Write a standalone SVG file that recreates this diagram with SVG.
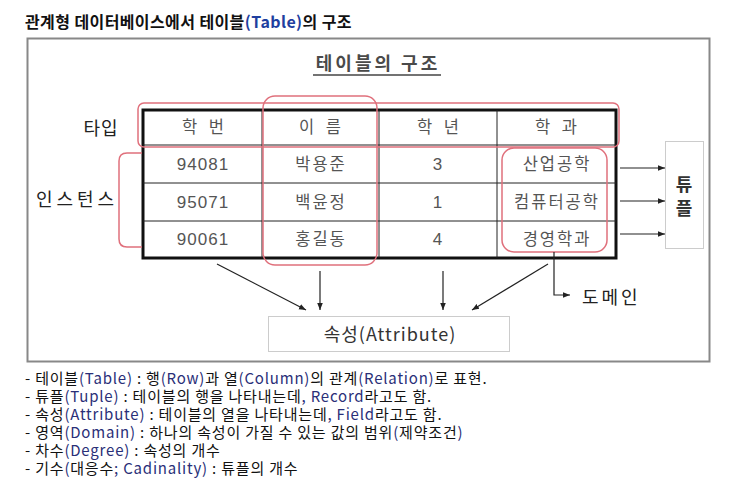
<svg xmlns="http://www.w3.org/2000/svg" width="739" height="491" viewBox="0 0 739 491">
<defs>
<style>
.k{font-family:"Noto Sans CJK KR","Noto Sans",sans-serif}
.cell{font-family:"Noto Sans CJK KR","Noto Sans",sans-serif;font-size:16.5px;fill:#555;text-anchor:middle;letter-spacing:2px}
.hd{letter-spacing:4px}
.num{font-family:"Liberation Sans","Noto Sans CJK KR",sans-serif;font-size:17px;fill:#555;text-anchor:middle;letter-spacing:1px}
.red{fill:none;stroke:#e0707c;stroke-width:1.5}
.grid{stroke:#222;stroke-width:1}
.arr{stroke:#222;stroke-width:1.2;fill:none;marker-end:url(#ah)}
.en{fill:#2a2f78}
.list{font-family:"Noto Sans CJK KR","Noto Sans",sans-serif;font-size:15px;fill:#111;letter-spacing:0.8px}
</style>
<marker id="ah" viewBox="0 0 10 10" refX="10" refY="5" markerWidth="7" markerHeight="7" orient="auto" markerUnits="userSpaceOnUse">
<path d="M0,1 L10,5 L0,9 z" fill="#222"/>
</marker>
</defs>
<rect width="739" height="491" fill="#fff"/>
<text x="25" y="28" class="k" font-size="16" font-weight="bold" fill="#111" letter-spacing="0.4">관계형 데이터베이스에서 테이블<tspan fill="#1f3fa0">(Table)</tspan>의 구조</text>
<rect id="frame" x="27.5" y="38.5" width="682" height="323" fill="none" stroke="#888" stroke-width="2"/>
<g id="title">
<text x="378" y="70" class="k" font-size="18" font-weight="bold" fill="#4a4a4a" text-anchor="middle" letter-spacing="3">테이블의 구조</text>
<line x1="313" y1="75" x2="441" y2="75" stroke="#444" stroke-width="1.5"/>
</g>
<g id="table">
<rect x="143" y="110" width="473" height="148" fill="#fff" stroke="#111" stroke-width="3"/>
<line class="grid" x1="143" y1="145" x2="616" y2="145"/>
<line class="grid" x1="143" y1="183" x2="616" y2="183"/>
<line class="grid" x1="143" y1="221" x2="616" y2="221"/>
<line class="grid" x1="262" y1="110" x2="262" y2="258"/>
<line class="grid" x1="379" y1="110" x2="379" y2="258"/>
<line class="grid" x1="497" y1="110" x2="497" y2="258"/>
<text class="cell hd" x="205" y="133">학 번</text>
<text class="cell hd" x="322" y="133">이 름</text>
<text class="cell hd" x="440" y="133">학 년</text>
<text class="cell hd" x="558" y="133">학 과</text>
<text class="num" x="203" y="170">94081</text>
<text class="cell" x="321" y="170">박용준</text>
<text class="num" x="438" y="170">3</text>
<text class="cell" x="557" y="170">산업공학</text>
<text class="num" x="203" y="208">95071</text>
<text class="cell" x="321" y="208">백윤정</text>
<text class="num" x="438" y="208">1</text>
<text class="cell" x="557" y="208">컴퓨터공학</text>
<text class="num" x="203" y="245">90061</text>
<text class="cell" x="321" y="245">홍길동</text>
<text class="num" x="438" y="245">4</text>
<text class="cell" x="557" y="245">경영학과</text>
</g>
<g id="type">
<rect class="red" x="138" y="103" width="481" height="44" rx="6"/>
<text x="101" y="135" class="k" font-size="18" fill="#222" text-anchor="middle" letter-spacing="1">타입</text>
</g>
<g id="name-col">
<rect class="red" x="263" y="96" width="114" height="169" rx="12"/>
</g>
<g id="domain-box">
<rect class="red" x="502" y="148" width="105" height="104" rx="12"/>
</g>
<g id="instance">
<path class="red" d="M142,153 L127,153 Q119,153 119,161 L119,239 Q119,247 127,247 L142,247"/>
<text x="77" y="206" class="k" font-size="18" fill="#222" text-anchor="middle" letter-spacing="4">인스턴스</text>
</g>
<g id="tuple">
<rect x="665.5" y="141.5" width="38" height="107" fill="#fff" stroke="#ccc" stroke-width="1"/>
<text x="684" y="191" class="k" font-size="18" font-weight="bold" fill="#333" text-anchor="middle">튜</text>
<text x="684" y="215" class="k" font-size="18" font-weight="bold" fill="#333" text-anchor="middle">플</text>
</g>
<g id="attribute">
<rect x="268.5" y="316.5" width="241" height="35" fill="#fff" stroke="#ccc" stroke-width="1"/>
<text x="390" y="341" class="k" font-size="18" fill="#333" text-anchor="middle" letter-spacing="1">속성(Attribute)</text>
</g>
<g id="domain">
<text x="582" y="304" class="k" font-size="18" fill="#222" letter-spacing="3">도메인</text>
</g>
<g id="connectors">
<line class="arr" x1="620" y1="168" x2="665" y2="168"/>
<line class="arr" x1="620" y1="201" x2="665" y2="201"/>
<line class="arr" x1="620" y1="234" x2="665" y2="234"/>
<line class="arr" x1="217" y1="264" x2="306" y2="310"/>
<line class="arr" x1="320" y1="271" x2="320" y2="310"/>
<line class="arr" x1="443" y1="271" x2="443" y2="310"/>
<line class="arr" x1="548" y1="264" x2="472" y2="310"/>
<path class="arr" d="M554,252 L554,295 L570,295"/>
</g>
<g id="notes" class="list">
<text x="25" y="384">- 테이블<tspan class="en">(Table)</tspan> : 행<tspan class="en">(Row)</tspan>과 열<tspan class="en">(Column)</tspan>의 관계<tspan class="en">(Relation)</tspan>로 표현.</text>
<text x="25" y="402">- 튜플<tspan class="en">(Tuple)</tspan> : 테이블의 행을 나타내는데<tspan class="en">, Record</tspan>라고도 함.</text>
<text x="25" y="420">- 속성<tspan class="en">(Attribute)</tspan> : 테이블의 열을 나타내는데<tspan class="en">, Field</tspan>라고도 함.</text>
<text x="25" y="438">- 영역<tspan class="en">(Domain)</tspan> : 하나의 속성이 가질 수 있는 값의 범위<tspan class="en">(</tspan>제약조건<tspan class="en">)</tspan></text>
<text x="25" y="456">- 차수<tspan class="en">(Degree)</tspan> : 속성의 개수</text>
<text x="25" y="474">- 기수<tspan class="en">(</tspan>대응수<tspan class="en">; Cadinality)</tspan> : 튜플의 개수</text>
</g>
</svg>
